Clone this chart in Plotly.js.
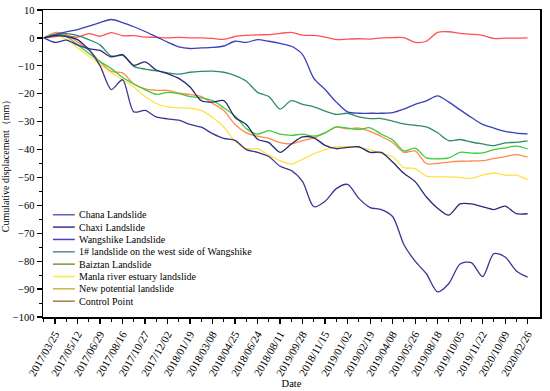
<!DOCTYPE html>
<html>
<head>
<meta charset="utf-8">
<script src="https://cdn.plot.ly/plotly-3.0.1.min.js"></script>
<style>html,body{margin:0;padding:0;background:#fff;}#chart{width:550px;height:391px;}</style>
</head>
<body>
<div id="chart"></div>
<script>
// tick labels (every other survey step)
const tickLabels = ["2017/03/25","2017/05/12","2017/06/29","2017/08/16","2017/10/27","2017/12/02","2018/01/19","2018/03/08","2018/04/25","2018/06/24","2018/08/11","2019/09/28","2018/11/15","2019/01/02","2019/02/19","2019/04/08","2019/05/26","2019/08/18","2019/10/05","2019/11/22","2020/10/09","2020/02/26"];

// survey step index 0..43
const steps = Array.from({length: 44}, (_, i) => i);

const chana = [0,-1.6,-0.8,-2.5,-4.2,-10,-18.5,-15,-26.5,-26,-28.3,-29,-29.5,-31,-32,-34.3,-36,-36.7,-40,-41,-42.5,-46,-47.5,-51.5,-60.5,-58.5,-54,-52.5,-57.5,-60.8,-61.5,-64,-74,-80,-84.5,-91,-88,-81,-80.5,-85.5,-77.3,-78.5,-83.5,-85.7];
const chaxi = [0,0.8,0.5,-0.6,-3.8,-4.5,-6.8,-6.0,-9.8,-8.6,-11.5,-12.8,-14.5,-17.6,-22.5,-23,-22.5,-28.5,-31,-36.3,-37.5,-41,-38,-35.5,-35.8,-38.5,-39.7,-39.2,-39,-41,-41,-44.5,-48.5,-51.5,-57,-61,-63.5,-59.5,-59.5,-60.5,-61.5,-60.3,-63,-63];
const wangshike = [0,1.2,2.2,3.0,4.2,5.5,6.6,5.5,4.0,2.3,0.4,-1.5,-3.2,-3.8,-3.6,-3.4,-2.9,-1.2,-1.6,-0.6,-1.2,-2.0,-3.0,-6,-14.5,-18.5,-23,-26.5,-27,-27,-27,-26.8,-25.5,-23.8,-22.6,-20.8,-23,-25.8,-28.5,-31,-32.3,-33.5,-34.1,-34.4];
const westWangshike = [0,0.8,1.5,0.8,-0.6,-2.5,-6.5,-6.3,-10.2,-11.2,-11.8,-12.5,-13,-12.3,-12,-11.9,-12.3,-13.5,-15.5,-19.5,-21,-25.5,-22.5,-23.8,-24.7,-26.2,-27.4,-27,-28.3,-28.9,-28.9,-29.8,-30.8,-31.3,-31.9,-34,-36.8,-36.4,-37.3,-38,-38.6,-37.6,-37.4,-36.9];
const baiztan = [0,1.3,0.5,-2.5,-5.5,-8.5,-11,-14.2,-16.5,-18.5,-20.2,-19.5,-20,-21,-21.5,-22.5,-25,-28,-32.5,-34.5,-33.2,-34.5,-34.9,-34.5,-35.2,-34,-31.9,-32.3,-32.8,-32.2,-34.5,-36.5,-40.5,-39.5,-43,-43.3,-43,-41,-41.3,-41.2,-40,-39.4,-38.8,-39.8];
const manla = [0,1.0,-0.5,-3.5,-6.5,-9.5,-12.5,-15,-17.6,-21,-23.5,-24.7,-25,-25.2,-26,-28.5,-31.9,-37,-39.7,-39.7,-42,-44,-45.2,-43.5,-41.5,-40,-39,-39,-39.3,-40,-41.5,-42.5,-46.5,-46.8,-49.5,-49.8,-49.8,-50,-50.3,-49.2,-48.4,-49.2,-49.2,-50.8];
const newPotential = [0,1.9,1.2,-1.5,-4.2,-8.6,-12,-12.5,-16.5,-18.3,-18.8,-18.8,-19.8,-20.3,-21,-23.5,-26,-31,-34,-35.2,-36,-37.5,-38,-36.8,-35.8,-34,-32,-32.6,-32.3,-33.5,-35.3,-37.5,-41,-40.5,-45,-45,-44.5,-44.2,-44.1,-44,-43.2,-42.5,-41.8,-42.7];
const controlPoint = [0,0.5,0.8,0.3,1.5,0.6,1.9,0.8,0.8,0.3,0.2,0.0,0.2,0.0,0.0,-0.2,-0.5,0.5,0.9,1.1,1.2,1.6,2.0,1.0,0.9,0.3,-0.6,-0.4,-0.3,-0.4,0.0,0.1,0.1,-1.6,-1.2,2.0,2.2,1.6,1.3,0.9,-0.2,-0.1,-0.1,0.0];

const seriesNames = ["Chana Landslide","Chaxi Landslide","Wangshike Landslide","1# landslide on the west side of Wangshike","Baiztan Landslide","Manla river estuary landslide","New potential landslide","Control Point"];
const seriesData = [chana, chaxi, wangshike, westWangshike, baiztan, manla, newPotential, controlPoint];
const lineColors = ["#3d3592","#2a2b70","#3b3fb8","#2e8b6c","#3ccc3c","#ffe24a","#ff8a4a","#ff5252"];
const legendColors = ["#6a5cc8","#3c318c","#4b42bf","#5f8a8a","#6f9a3c","#f2ee3a","#c8b440","#a27c4c"];

const font = {family: "Liberation Serif, Times New Roman, serif", color: "#000"};

const traces = [];
const order = [7,6,5,4,3,2,1,0];
order.forEach(i => {
  traces.push({
    x: steps, y: seriesData[i], type: "scatter", mode: "lines", name: seriesNames[i],
    line: {color: lineColors[i], width: 1.3, shape: "spline", smoothing: 0.8},
    showlegend: false, hoverinfo: "skip"
  });
});

// legend drawn as shapes + text (compact row spacing like the original)
const legTop = 0.333, legStep = 0.0402;
const shapes = [], annotations = [];
seriesNames.forEach((n, i) => {
  const yy = legTop - i * legStep;
  shapes.push({type: "line", xref: "paper", yref: "paper", x0: 0.02, x1: 0.064, y0: yy, y1: yy,
               line: {color: legendColors[i], width: 1.5}});
  annotations.push({xref: "paper", yref: "paper", x: 0.069, y: yy, xanchor: "left", yanchor: "middle",
                    text: n, showarrow: false, font: Object.assign({size: 10}, font)});
});

const majorVals = tickLabels.map((_, i) => 2 * i + 1);
const minorVals = Array.from({length: 22}, (_, i) => 2 * i);

const layout = {
  width: 550, height: 391,
  margin: {l: 43, r: 10, t: 10, b: 74},
  paper_bgcolor: "#fff", plot_bgcolor: "#fff",
  font: Object.assign({size: 11}, font),
  showlegend: false,
  shapes: shapes, annotations: annotations,
  xaxis: {
    range: [-0.07, 44.1], showgrid: false, zeroline: false,
    tickmode: "array", tickvals: majorVals, ticktext: tickLabels,
    tickangle: -60, ticks: "outside", ticklen: 5, tickwidth: 1.2, tickcolor: "#000",
    tickfont: Object.assign({size: 11}, font),
    minor: {tickmode: "array", tickvals: minorVals, ticks: "outside", ticklen: 3, tickwidth: 1, tickcolor: "#000"},
    showline: true, linecolor: "#000", linewidth: 1.5, mirror: true,
    title: {text: "Date", font: Object.assign({size: 10.5}, font), standoff: 2}
  },
  yaxis: {
    range: [-100, 10], showgrid: false, zeroline: false,
    tickmode: "linear", tick0: 0, dtick: 10,
    ticks: "outside", ticklen: 5, tickwidth: 1.2, tickcolor: "#000",
    tickfont: Object.assign({size: 10.5}, font),
    minor: {dtick: 5, ticks: "outside", ticklen: 3, tickwidth: 1, tickcolor: "#000"},
    showline: true, linecolor: "#000", linewidth: 1.5, mirror: true,
    title: {text: "Cumulative displacement（mm）", font: Object.assign({size: 10}, font), standoff: 2}
  }
};

Plotly.newPlot("chart", traces, layout, {displayModeBar: false, staticPlot: true});
</script>
</body>
</html>
